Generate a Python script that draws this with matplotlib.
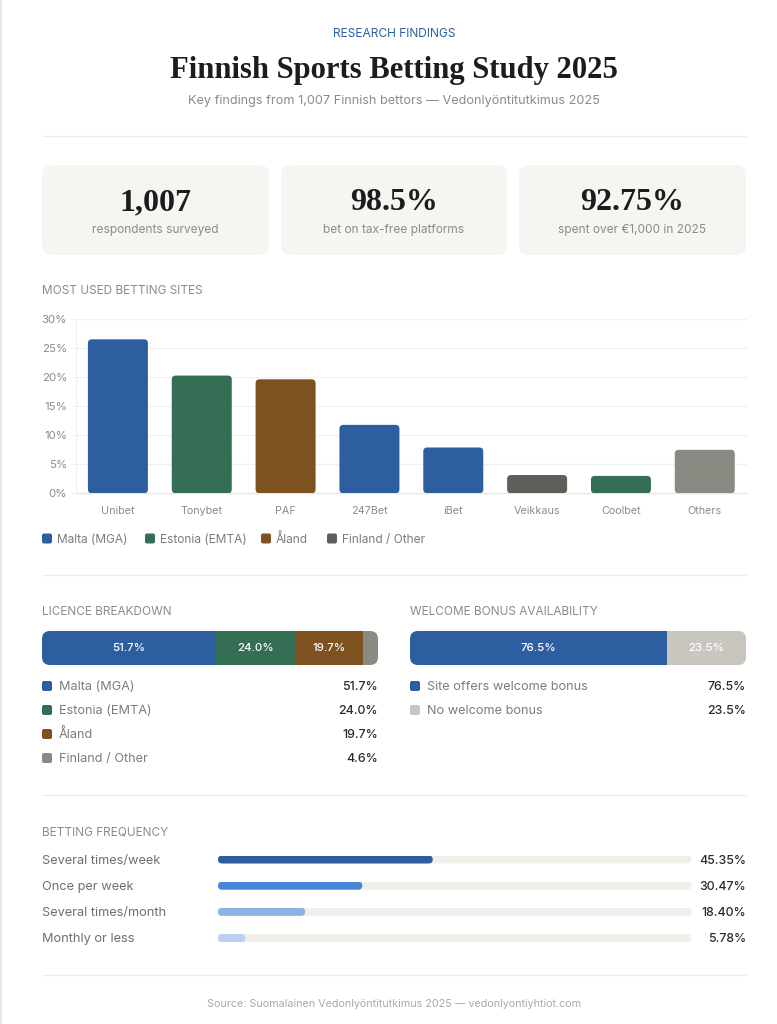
import matplotlib
matplotlib.use("Agg")
import matplotlib.pyplot as plt
from matplotlib.patches import FancyBboxPatch, Rectangle

W, H = 777, 1024
SANS = "Inter"
SERIF = "Liberation Serif"
BLUE, GREEN, BROWN, DARK, GREY, SAND = "#2d5fa0", "#336e55", "#7d5120", "#5f5e58", "#8a8982", "#c9c6bf"
INK, MUTED, FAINT, RULE = "#1c1c1c", "#8b8b88", "#a9a9a6", "#ececea"

sites = ["Unibet", "Tonybet", "PAF", "247Bet", "iBet", "Veikkaus", "Coolbet", "Others"]
site_values = [26.55, 20.3, 19.65, 11.8, 7.9, 3.15, 3.0, 7.5]
site_colors = [BLUE, GREEN, BROWN, BLUE, BLUE, DARK, GREEN, GREY]
y_ticks = [0, 5, 10, 15, 20, 25, 30]

legend_names = ["Malta (MGA)", "Estonia (EMTA)", "Åland", "Finland / Other"]
legend_colors = [BLUE, GREEN, BROWN, DARK]

licence_names = ["Malta (MGA)", "Estonia (EMTA)", "Åland", "Finland / Other"]
licence_values = [51.7, 24.0, 19.7, 4.6]
licence_colors = [BLUE, GREEN, BROWN, GREY]

bonus_names = ["Site offers welcome bonus", "No welcome bonus"]
bonus_values = [76.5, 23.5]
bonus_colors = [BLUE, SAND]

freq_names = ["Several times/week", "Once per week", "Several times/month", "Monthly or less"]
freq_values = [45.35, 30.47, 18.40, 5.78]
freq_colors = [BLUE, "#4a86d6", "#8cb2e8", "#b9d0f0"]

kpi_values = ["1,007", "98.5%", "92.75%"]
kpi_labels = ["respondents surveyed", "bet on tax-free platforms", "spent over €1,000 in 2025"]


def px(size):
    return size * 0.72


fig = plt.figure(figsize=(W / 100, H / 100), dpi=100, facecolor="white")
plt.rcParams["font.family"] = [SANS, "DejaVu Sans"]


def axes_px(x0, y0, x1, y1, **kw):
    return fig.add_axes([x0 / W, 1 - y1 / H, (x1 - x0) / W, (y1 - y0) / H], **kw)


page = axes_px(0, 0, W, H)
page.set_xlim(0, W)
page.set_ylim(H, 0)
page.axis("off")


def text(x, y, s, size, color, ha="left", **kw):
    # y is the visual middle of the digits and capitals; placed by baseline so accents do not shift it
    return page.text(x, y + 0.36 * size, s, fontsize=px(size), color=color, ha=ha, va="baseline", **kw)


def hr(y):
    page.plot([42, 746], [y, y], color=RULE, lw=0.9, solid_capstyle="butt")


def square(x, y, color):
    page.add_patch(FancyBboxPatch((x, y - 5), 10, 10, boxstyle="round,pad=0,rounding_size=2",
                                  fc=color, ec="none"))


page.add_patch(Rectangle((0, 0), 1.5, H, fc="#e6e6e6", ec="none"))

# Header
text(394, 33, "RESEARCH FINDINGS", 12, BLUE, ha="center")
text(394, 66.5, "Finnish Sports Betting Study 2025", 30.7, INK, ha="center",
     fontfamily=SERIF, fontweight="bold")
text(394, 99, "Key findings from 1,007 Finnish bettors — Vedonlyöntitutkimus 2025", 12.7, MUTED,
     ha="center")
hr(136)

# KPI cards
for (x0, x1), val, lab in zip([(42, 269), (281, 507), (519, 746)], kpi_values, kpi_labels):
    page.add_patch(FancyBboxPatch((x0, 165), x1 - x0, 90, boxstyle="round,pad=0,rounding_size=10",
                                  fc="#f6f5f2", ec="none"))
    mid = (x0 + x1) / 2
    text(mid, 198.5, val, 32, INK, ha="center", fontfamily=SERIF, fontweight="bold")
    text(mid, 228.5, lab, 11.9, MUTED, ha="center")

# Site chart
text(42, 290, "MOST USED BETTING SITES", 11.8, MUTED)
ax = axes_px(76, 319.3, 746.7, 493.3)
ax.set_xlim(-0.5, len(sites) - 0.5)
ax.set_ylim(0, 30)
ax.set_facecolor("none")
ax.set_axisbelow(True)
ax.yaxis.grid(True, color="#f1f1ef", lw=0.9)
for name in ("top", "right"):
    ax.spines[name].set_visible(False)
ax.spines["left"].set_color("#f1f1ef")
ax.spines["bottom"].set_color("#e6e6e4")
ax.spines["left"].set_linewidth(0.9)
ax.spines["bottom"].set_linewidth(0.9)
ax.set_yticks(y_ticks, [f"{t}%" for t in y_ticks])
ax.set_xticks(range(len(sites)), sites)
ax.tick_params(axis="y", length=5.5 * 0.72, width=0.7, color="#f1f1ef", labelcolor=MUTED,
               labelsize=px(11.5), pad=2.5)
ax.tick_params(axis="x", length=0, labelcolor=MUTED, labelsize=px(10.8), pad=9.5)

x_unit = 670.7 / len(sites)
y_unit = 174 / 30
bar_w = 60 / x_unit
radius = 4 / x_unit
for i, (v, c) in enumerate(zip(site_values, site_colors)):
    ax.add_patch(FancyBboxPatch((i - bar_w / 2, 0), bar_w, v,
                                boxstyle=f"round,pad=0,rounding_size={radius}",
                                mutation_aspect=x_unit / y_unit, fc=c, ec="none", zorder=3))

for sq_x, name, c in zip([42, 145, 261, 327], legend_names, legend_colors):
    square(sq_x, 538.5, c)
    text(sq_x + 15, 538.5, name, 11.9, "#7c7c79")

hr(575)


def stacked(x0, x1, title, names, values, colors, min_label=10):
    text(x0, 611, title, 11.8, MUTED)
    a = axes_px(x0, 631, x1, 665)
    a.set_xlim(0, sum(values))
    a.set_ylim(0, 1)
    a.axis("off")
    clip = FancyBboxPatch((x0, 631), x1 - x0, 34, boxstyle="round,pad=0,rounding_size=8",
                          fc="none", ec="none", transform=page.transData)
    page.add_patch(clip)
    left = 0
    for v, c in zip(values, colors):
        bar = a.barh(0.5, v, height=1, left=left, color=c, lw=0)[0]
        bar.set_clip_path(clip.get_path(), clip.get_transform())
        if v >= min_label:
            a.text(left + v / 2, 0.49, f"{v:.1f}%", color="white", ha="center", va="center",
                   fontsize=px(11.5), fontweight="medium")
        left += v
    for i, (n, v, c) in enumerate(zip(names, values, colors)):
        y = 686 + 24 * i
        square(x0, y, c)
        text(x0 + 17, y - 0.5, n, 12.7, "#7c7c79")
        text(x1, y, f"{v:.1f}%", 12.4, "#2a2a2a", ha="right", fontweight="medium")


stacked(42, 378, "LICENCE BREAKDOWN", licence_names, licence_values, licence_colors)
stacked(410, 746, "WELCOME BONUS AVAILABILITY", bonus_names, bonus_values, bonus_colors)

hr(795)

# Frequency
text(42, 831, "BETTING FREQUENCY", 11.8, MUTED)
row_ys = [859.5, 885.7, 911.8, 938]
for y, n, v, c in zip(row_ys, freq_names, freq_values, freq_colors):
    text(42, y - 0.5, n, 12.8, "#6f6f6c")
    a = axes_px(218, y - 4, 691.5, y + 4)
    a.set_xlim(0, 100)
    a.set_ylim(0, 1)
    a.axis("off")
    unit_x = 473.5 / 100
    unit_y = 8
    r = 4 / unit_x
    a.add_patch(FancyBboxPatch((0, 0), 100, 1, boxstyle=f"round,pad=0,rounding_size={r}",
                               mutation_aspect=unit_x / unit_y, fc="#f0efe9", ec="none"))
    a.add_patch(FancyBboxPatch((0, 0), v, 1, boxstyle=f"round,pad=0,rounding_size={r}",
                               mutation_aspect=unit_x / unit_y, fc=c, ec="none"))
    text(746, y, f"{v:.2f}%", 12.4, "#2a2a2a", ha="right", fontweight="medium")

hr(975)
text(394, 1003, "Source: Suomalainen Vedonlyöntitutkimus 2025 — vedonlyontiyhtiot.com", 10.8, FAINT,
     ha="center")

fig.savefig("out.png", dpi=100, facecolor="white")
